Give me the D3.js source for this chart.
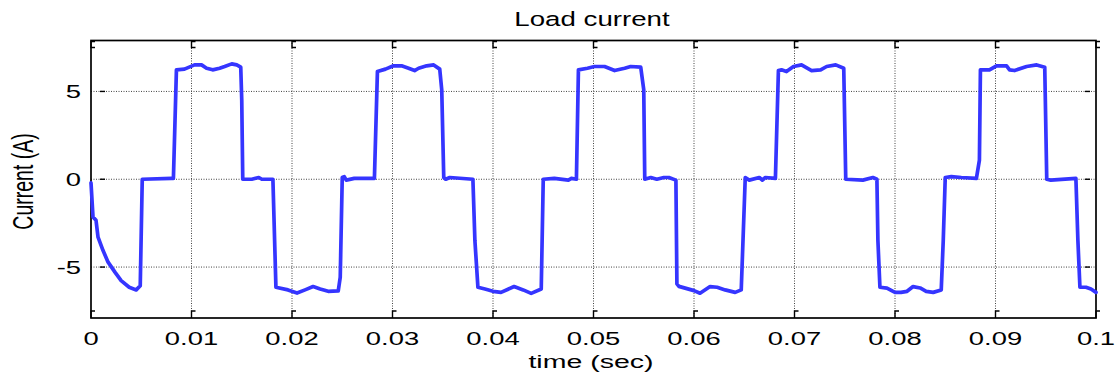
<!DOCTYPE html>
<html>
<head>
<meta charset="utf-8">
<script src="https://cdn.jsdelivr.net/npm/d3@7"></script>
<style>
body { margin: 0; background: #fff; }
text { font-family: "Liberation Sans", Arial, sans-serif; fill: #000; }
</style>
</head>
<body>
<script>
// load current samples (time in s, current in A)
var timeSec = [
  0, 0.0002, 0.0005, 0.0007, 0.0012, 0.0017, 0.0024, 0.0030, 0.0038, 0.0045, 0.0049, 0.0051,
  0.0080, 0.0082, 0.0085, 0.0093, 0.0103, 0.0110, 0.0115, 0.0121, 0.0128, 0.0133, 0.0140, 0.0145, 0.0149, 0.0150, 0.0151,
  0.0160, 0.0167, 0.0170, 0.0181, 0.0184, 0.0196, 0.0205, 0.0213, 0.0221, 0.0228, 0.0236, 0.0246, 0.0248, 0.0250,
  0.0252, 0.0254, 0.0262, 0.0282, 0.0285, 0.0293, 0.0301, 0.0309, 0.0316, 0.0322, 0.0326, 0.0334, 0.0341, 0.0347, 0.0349, 0.0351,
  0.0353, 0.0357, 0.0380, 0.0382, 0.0385, 0.0392, 0.0400, 0.0408, 0.0421, 0.0430, 0.0438, 0.0448, 0.0450,
  0.0461, 0.0475, 0.0478, 0.0483, 0.0485, 0.0494, 0.0501, 0.0511, 0.0521, 0.0531, 0.0537, 0.0547, 0.0550, 0.0551,
  0.0557, 0.0563, 0.0570, 0.0575, 0.0582, 0.0583, 0.0585, 0.0600, 0.0606, 0.0616, 0.0623, 0.0631, 0.0641, 0.0647, 0.0651,
  0.0655, 0.0665, 0.0668, 0.0671, 0.0681, 0.0684, 0.0687, 0.0692, 0.0699, 0.0707, 0.0717, 0.0726, 0.0732, 0.0741, 0.0749, 0.0751,
  0.0768, 0.0778, 0.0782, 0.0783, 0.0785, 0.0792, 0.0800, 0.0806, 0.0812, 0.0818, 0.0825, 0.0831, 0.0838, 0.0846, 0.0848, 0.0850,
  0.0856, 0.0866, 0.0881, 0.0884, 0.0885, 0.0894, 0.0901, 0.0911, 0.0914, 0.0919, 0.0931, 0.0941, 0.0949, 0.0951,
  0.0955, 0.0980, 0.0982, 0.0984, 0.0990, 0.0995, 0.1000
];
var currentA = [
  -0.2, -2.15, -2.34, -3.3, -4.06, -4.72, -5.3, -5.77, -6.15, -6.3, -6.06, 0,
  0.05, 0.05, 6.23, 6.27, 6.51, 6.51, 6.32, 6.23, 6.32, 6.42, 6.57, 6.51, 6.38, 4.5, 0,
  0, 0.1, 0, 0, -6.15, -6.3, -6.48, -6.3, -6.11, -6.25, -6.38, -6.36, -5.58, 0.1,
  0.15, -0.05, 0.05, 0.05, 6.13, 6.27, 6.46, 6.46, 6.32, 6.19, 6.32, 6.46, 6.51, 6.27, 5.09, 0.1,
  0, 0.1, 0, -3.5, -6.15, -6.25, -6.38, -6.44, -6.11, -6.3, -6.5, -6.25, 0,
  0.05, -0.05, 0.05, 0, 6.23, 6.32, 6.42, 6.42, 6.19, 6.32, 6.42, 6.38, 5.09, 0,
  0.1, 0, 0.1, 0.1, -0.05, -5.96, -6.1, -6.34, -6.49, -6.11, -6.15, -6.3, -6.44, -6.3, 0.1,
  -0.05, 0.1, -0.05, 0.1, 0.05, 6.19, 6.23, 6.13, 6.42, 6.51, 6.19, 6.23, 6.42, 6.51, 6.32, 0,
  -0.05, 0.1, 0, -3.5, -6.15, -6.2, -6.44, -6.44, -6.38, -6.11, -6.19, -6.38, -6.44, -6.3, -3.5, 0.1,
  0.15, 0.1, 0.05, 1.09, 6.23, 6.23, 6.46, 6.46, 6.23, 6.19, 6.42, 6.51, 6.38, 0,
  -0.05, 0.05, -3.5, -6.15, -6.15, -6.25, -6.44
];

var xTicks = [0, 0.01, 0.02, 0.03, 0.04, 0.05, 0.06, 0.07, 0.08, 0.09, 0.1];
var xTickLabels = ["0", "0.01", "0.02", "0.03", "0.04", "0.05", "0.06", "0.07", "0.08", "0.09", "0.1"];
var yTicks = [-5, 0, 5];
var yTickLabels = ["-5", "0", "5"];

var width = 1120, height = 375;
var plotLeft = 91, plotRight = 1096, plotTop = 40.5, plotBottom = 318;
var sx = 1.48; // text in the picture is stretched sideways

var x = d3.scaleLinear().domain([0, 0.1]).range([plotLeft, plotRight]);
var y = d3.scaleLinear().domain([-7.9, 7.9]).range([plotBottom, plotTop]);

var svg = d3.select("body").append("svg")
    .attr("width", width)
    .attr("height", height);

svg.append("rect")
    .attr("width", width)
    .attr("height", height)
    .attr("fill", "#fff");

// grid
svg.append("g").selectAll("line")
    .data(xTicks.slice(1, -1)).enter()
    .append("line")
    .attr("x1", function(d) { return x(d); })
    .attr("x2", function(d) { return x(d); })
    .attr("y1", plotTop)
    .attr("y2", plotBottom)
    .attr("stroke", "#444")
    .attr("stroke-width", 1)
    .attr("stroke-dasharray", "1,1.5");

svg.append("g").selectAll("line")
    .data(yTicks).enter()
    .append("line")
    .attr("x1", plotLeft)
    .attr("x2", plotRight)
    .attr("y1", function(d) { return y(d); })
    .attr("y2", function(d) { return y(d); })
    .attr("stroke", "#444")
    .attr("stroke-width", 1)
    .attr("stroke-dasharray", "1,1.5");

// ticks (inside, with the little hook seen in the picture)
var tickG = svg.append("g").attr("stroke", "#000").attr("stroke-width", 1.4).attr("fill", "none");
tickG.selectAll("path.xb")
    .data(xTicks).enter()
    .append("path")
    .attr("class", "xb")
    .attr("d", function(d) { var p = x(d); return "M" + p + "," + plotBottom + "V" + (plotBottom - 7) + "H" + (p + 4); });
tickG.selectAll("path.xt")
    .data(xTicks).enter()
    .append("path")
    .attr("class", "xt")
    .attr("d", function(d) { var p = x(d); return "M" + (p + 4) + "," + (plotTop + 1) + "H" + p + "V" + (plotTop + 7) + "H" + (p + 4); });
tickG.selectAll("path.yl")
    .data(yTicks).enter()
    .append("path")
    .attr("class", "yl")
    .attr("d", function(d) { return "M" + (plotLeft + 9) + "," + y(d) + "H" + (plotLeft + 14); });
tickG.selectAll("path.yr")
    .data(yTicks).enter()
    .append("path")
    .attr("class", "yr")
    .attr("d", function(d) { return "M" + (plotRight - 11) + "," + y(d) + "H" + (plotRight - 6); });

// axes box
svg.append("rect")
    .attr("x", plotLeft)
    .attr("y", plotTop)
    .attr("width", plotRight - plotLeft)
    .attr("height", plotBottom - plotTop)
    .attr("fill", "none")
    .attr("stroke", "#000")
    .attr("stroke-width", 1.7);

// the current trace
var line = d3.line()
    .x(function(d) { return x(d[0]); })
    .y(function(d) { return y(d[1]); });

svg.append("path")
    .datum(d3.zip(timeSec, currentA))
    .attr("d", line)
    .attr("fill", "none")
    .attr("stroke", "#3535ff")
    .attr("stroke-width", 3.7)
    .attr("stroke-linejoin", "round")
    .attr("stroke-linecap", "round");

// labels
svg.append("g").selectAll("text")
    .data(xTicks).enter()
    .append("text")
    .attr("transform", function(d) { return "translate(" + x(d) + ",345) scale(" + sx + ",1)"; })
    .attr("text-anchor", "middle")
    .style("font-size", "18.5px")
    .text(function(d, i) { return xTickLabels[i]; });

svg.append("g").selectAll("text")
    .data(yTicks).enter()
    .append("text")
    .attr("transform", function(d) { return "translate(81," + (y(d) + 6.5) + ") scale(" + sx + ",1)"; })
    .attr("text-anchor", "end")
    .style("font-size", "18.5px")
    .text(function(d, i) { return yTickLabels[i]; });

svg.append("text")
    .attr("transform", "translate(592,25.5) scale(1.42,1)")
    .attr("text-anchor", "middle")
    .style("font-size", "19.5px")
    .text("Load current");

svg.append("text")
    .attr("transform", "translate(591,368) scale(1.5,1)")
    .attr("text-anchor", "middle")
    .style("font-size", "19px")
    .text("time (sec)");

svg.append("text")
    .attr("transform", "translate(33,181.5) scale(1.5,1) rotate(-90)")
    .attr("text-anchor", "middle")
    .style("font-size", "19.5px")
    .text("Current (A)");
</script>
</body>
</html>
